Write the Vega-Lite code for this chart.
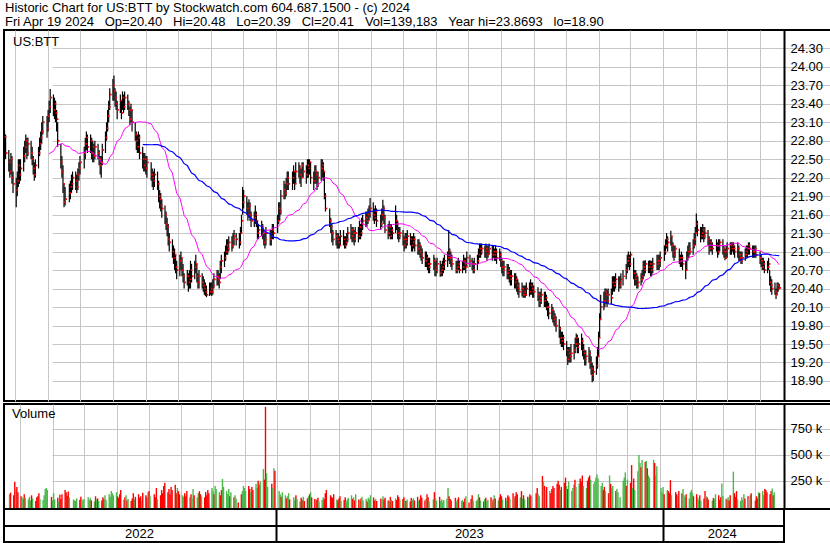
{
"$schema":"https://vega.github.io/schema/vega-lite/v6.json",
"padding":0,
"background":"#ffffff",
"config":{"view":{"stroke":"#000000","strokeWidth":2},"font":"Liberation Sans",
"title":{"font":"Liberation Sans","fontSize":13,"fontWeight":"normal","color":"#000000","anchor":"start","frame":"group"},
"axis":{"gridColor":"#c6c6c6","gridWidth":1,"gridOpacity":1,"labelFont":"Liberation Sans","labelOverlap":false}},
"datasets":{"p":[
{"d":"2022-04-21","h":22.95,"l":22.6,"c":22.86,"v":120},
{"d":"2022-04-22","h":22.9,"l":22.5,"c":22.6,"v":135},
{"d":"2022-04-25","h":22.65,"l":22.3,"c":22.45,"v":110},
{"d":"2022-04-26","h":22.5,"l":22.2,"c":22.3,"v":240},
{"d":"2022-04-27","h":22.6,"l":22.25,"c":22.5,"v":160},
{"d":"2022-04-28","h":22.55,"l":22.1,"c":22.2,"v":190},
{"d":"2022-04-29","h":22.3,"l":21.95,"c":22.1,"v":140},
{"d":"2022-05-02","h":22.2,"l":21.72,"c":22.0,"v":100},
{"d":"2022-05-03","h":22.3,"l":21.9,"c":22.15,"v":90},
{"d":"2022-05-04","h":22.5,"l":22.05,"c":22.4,"v":75},
{"d":"2022-05-05","h":22.5,"l":22.1,"c":22.25,"v":120},
{"d":"2022-05-06","h":22.5,"l":22.15,"c":22.35,"v":85},
{"d":"2022-05-09","h":22.7,"l":22.3,"c":22.55,"v":70},
{"d":"2022-05-10","h":22.8,"l":22.45,"c":22.7,"v":95},
{"d":"2022-05-11","h":22.9,"l":22.6,"c":22.8,"v":60},
{"d":"2022-05-12","h":22.85,"l":22.5,"c":22.6,"v":110},
{"d":"2022-05-13","h":22.85,"l":22.55,"c":22.75,"v":80},
{"d":"2022-05-16","h":22.8,"l":22.5,"c":22.6,"v":55},
{"d":"2022-05-17","h":22.7,"l":22.4,"c":22.5,"v":90},
{"d":"2022-05-18","h":22.55,"l":22.25,"c":22.35,"v":100},
{"d":"2022-05-19","h":22.45,"l":22.15,"c":22.25,"v":130},
{"d":"2022-05-20","h":22.5,"l":22.2,"c":22.4,"v":75},
{"d":"2022-05-23","h":22.7,"l":22.35,"c":22.6,"v":65},
{"d":"2022-05-24","h":22.85,"l":22.55,"c":22.75,"v":110},
{"d":"2022-05-25","h":22.95,"l":22.65,"c":22.85,"v":170},
{"d":"2022-05-26","h":23.1,"l":22.75,"c":22.95,"v":180},
{"d":"2022-05-27","h":23.2,"l":22.9,"c":23.1,"v":160},
{"d":"2022-05-31","h":23.2,"l":22.85,"c":23.0,"v":95},
{"d":"2022-06-01","h":23.3,"l":22.95,"c":23.2,"v":60},
{"d":"2022-06-02","h":23.45,"l":23.1,"c":23.35,"v":130},
{"d":"2022-06-03","h":23.64,"l":23.25,"c":23.5,"v":70},
{"d":"2022-06-06","h":23.55,"l":23.2,"c":23.3,"v":85},
{"d":"2022-06-07","h":23.5,"l":23.15,"c":23.4,"v":50},
{"d":"2022-06-08","h":23.45,"l":23.1,"c":23.25,"v":115},
{"d":"2022-06-09","h":23.3,"l":22.95,"c":23.15,"v":75},
{"d":"2022-06-10","h":23.1,"l":22.7,"c":22.8,"v":120},
{"d":"2022-06-13","h":22.75,"l":22.35,"c":22.45,"v":160},
{"d":"2022-06-14","h":22.55,"l":22.2,"c":22.3,"v":140},
{"d":"2022-06-15","h":22.4,"l":21.95,"c":22.1,"v":105},
{"d":"2022-06-16","h":22.1,"l":21.72,"c":21.8,"v":145},
{"d":"2022-06-17","h":22.05,"l":21.75,"c":21.85,"v":90},
{"d":"2022-06-21","h":22.1,"l":21.8,"c":21.95,"v":70},
{"d":"2022-06-22","h":22.15,"l":21.85,"c":22.05,"v":60},
{"d":"2022-06-23","h":22.25,"l":21.95,"c":22.1,"v":55},
{"d":"2022-06-24","h":22.3,"l":22.0,"c":22.2,"v":80},
{"d":"2022-06-27","h":22.3,"l":22.0,"c":22.15,"v":65},
{"d":"2022-06-28","h":22.25,"l":21.95,"c":22.05,"v":95},
{"d":"2022-06-29","h":22.35,"l":22.0,"c":22.25,"v":70},
{"d":"2022-06-30","h":22.45,"l":22.15,"c":22.35,"v":60},
{"d":"2022-07-01","h":22.55,"l":22.25,"c":22.45,"v":75},
{"d":"2022-07-05","h":22.7,"l":22.35,"c":22.6,"v":90},
{"d":"2022-07-06","h":22.85,"l":22.5,"c":22.75,"v":65},
{"d":"2022-07-07","h":22.95,"l":22.65,"c":22.85,"v":85},
{"d":"2022-07-08","h":22.9,"l":22.6,"c":22.7,"v":60},
{"d":"2022-07-11","h":22.9,"l":22.6,"c":22.8,"v":50},
{"d":"2022-07-12","h":22.85,"l":22.5,"c":22.6,"v":100},
{"d":"2022-07-13","h":22.8,"l":22.45,"c":22.7,"v":70},
{"d":"2022-07-14","h":22.75,"l":22.45,"c":22.55,"v":80},
{"d":"2022-07-15","h":22.8,"l":22.5,"c":22.7,"v":55},
{"d":"2022-07-18","h":22.75,"l":22.5,"c":22.6,"v":60},
{"d":"2022-07-19","h":22.65,"l":22.4,"c":22.5,"v":90},
{"d":"2022-07-20","h":22.55,"l":22.25,"c":22.4,"v":75},
{"d":"2022-07-21","h":22.55,"l":22.2,"c":22.45,"v":110},
{"d":"2022-07-22","h":22.75,"l":22.4,"c":22.65,"v":65},
{"d":"2022-07-25","h":22.95,"l":22.6,"c":22.85,"v":120},
{"d":"2022-07-26","h":23.1,"l":22.8,"c":23.0,"v":95},
{"d":"2022-07-27","h":23.3,"l":22.95,"c":23.2,"v":150},
{"d":"2022-07-28","h":23.45,"l":23.1,"c":23.35,"v":130},
{"d":"2022-07-29","h":23.65,"l":23.3,"c":23.55,"v":110},
{"d":"2022-08-01","h":23.8,"l":23.45,"c":23.7,"v":140},
{"d":"2022-08-02","h":23.86,"l":23.45,"c":23.6,"v":100},
{"d":"2022-08-03","h":23.65,"l":23.35,"c":23.5,"v":85},
{"d":"2022-08-04","h":23.6,"l":23.3,"c":23.4,"v":120},
{"d":"2022-08-05","h":23.45,"l":23.15,"c":23.3,"v":160},
{"d":"2022-08-08","h":23.55,"l":23.25,"c":23.45,"v":70},
{"d":"2022-08-09","h":23.45,"l":23.15,"c":23.25,"v":90},
{"d":"2022-08-10","h":23.6,"l":23.3,"c":23.5,"v":110},
{"d":"2022-08-11","h":23.55,"l":23.25,"c":23.35,"v":60},
{"d":"2022-08-12","h":23.6,"l":23.3,"c":23.5,"v":75},
{"d":"2022-08-15","h":23.55,"l":23.3,"c":23.4,"v":55},
{"d":"2022-08-16","h":23.45,"l":23.2,"c":23.3,"v":80},
{"d":"2022-08-17","h":23.35,"l":23.05,"c":23.15,"v":130},
{"d":"2022-08-18","h":23.4,"l":23.1,"c":23.3,"v":70},
{"d":"2022-08-19","h":23.3,"l":22.95,"c":23.1,"v":95},
{"d":"2022-08-22","h":23.1,"l":22.8,"c":22.9,"v":120},
{"d":"2022-08-23","h":22.95,"l":22.65,"c":22.8,"v":85},
{"d":"2022-08-24","h":22.9,"l":22.6,"c":22.7,"v":100},
{"d":"2022-08-25","h":22.95,"l":22.6,"c":22.85,"v":60},
{"d":"2022-08-26","h":22.9,"l":22.5,"c":22.6,"v":135},
{"d":"2022-08-29","h":22.7,"l":22.35,"c":22.5,"v":110},
{"d":"2022-08-30","h":22.6,"l":22.3,"c":22.4,"v":90},
{"d":"2022-08-31","h":22.6,"l":22.3,"c":22.5,"v":140},
{"d":"2022-09-01","h":22.55,"l":22.25,"c":22.35,"v":150},
{"d":"2022-09-02","h":22.55,"l":22.2,"c":22.45,"v":100},
{"d":"2022-09-06","h":22.45,"l":22.15,"c":22.25,"v":120},
{"d":"2022-09-07","h":22.35,"l":22.05,"c":22.2,"v":90},
{"d":"2022-09-08","h":22.3,"l":22.0,"c":22.15,"v":180},
{"d":"2022-09-09","h":22.35,"l":22.05,"c":22.25,"v":70},
{"d":"2022-09-12","h":22.3,"l":22.0,"c":22.1,"v":110},
{"d":"2022-09-13","h":22.15,"l":21.8,"c":21.9,"v":160},
{"d":"2022-09-14","h":22.0,"l":21.7,"c":21.85,"v":130},
{"d":"2022-09-15","h":21.95,"l":21.65,"c":21.75,"v":200},
{"d":"2022-09-16","h":21.85,"l":21.55,"c":21.7,"v":230},
{"d":"2022-09-19","h":21.75,"l":21.45,"c":21.6,"v":140},
{"d":"2022-09-20","h":21.65,"l":21.35,"c":21.45,"v":170},
{"d":"2022-09-21","h":21.55,"l":21.25,"c":21.4,"v":120},
{"d":"2022-09-22","h":21.45,"l":21.1,"c":21.2,"v":190},
{"d":"2022-09-23","h":21.3,"l":21.0,"c":21.15,"v":160},
{"d":"2022-09-26","h":21.2,"l":20.9,"c":21.0,"v":210},
{"d":"2022-09-27","h":21.1,"l":20.8,"c":20.9,"v":130},
{"d":"2022-09-28","h":21.05,"l":20.7,"c":20.95,"v":180},
{"d":"2022-09-29","h":20.95,"l":20.65,"c":20.75,"v":150},
{"d":"2022-09-30","h":20.85,"l":20.55,"c":20.7,"v":120},
{"d":"2022-10-03","h":20.95,"l":20.6,"c":20.85,"v":110},
{"d":"2022-10-04","h":21.0,"l":20.7,"c":20.9,"v":95},
{"d":"2022-10-05","h":20.9,"l":20.6,"c":20.7,"v":130},
{"d":"2022-10-06","h":20.8,"l":20.5,"c":20.6,"v":100},
{"d":"2022-10-07","h":20.65,"l":20.4,"c":20.5,"v":150},
{"d":"2022-10-10","h":20.7,"l":20.45,"c":20.6,"v":90},
{"d":"2022-10-11","h":20.65,"l":20.35,"c":20.5,"v":120},
{"d":"2022-10-12","h":20.7,"l":20.4,"c":20.55,"v":80},
{"d":"2022-10-13","h":20.85,"l":20.4,"c":20.7,"v":170},
{"d":"2022-10-14","h":20.8,"l":20.5,"c":20.6,"v":110},
{"d":"2022-10-17","h":20.85,"l":20.55,"c":20.75,"v":90},
{"d":"2022-10-18","h":20.95,"l":20.65,"c":20.8,"v":130},
{"d":"2022-10-19","h":20.8,"l":20.5,"c":20.6,"v":150},
{"d":"2022-10-20","h":20.65,"l":20.4,"c":20.5,"v":120},
{"d":"2022-10-21","h":20.7,"l":20.4,"c":20.6,"v":100},
{"d":"2022-10-24","h":20.65,"l":20.4,"c":20.5,"v":90},
{"d":"2022-10-25","h":20.6,"l":20.35,"c":20.45,"v":140},
{"d":"2022-10-26","h":20.55,"l":20.3,"c":20.4,"v":110},
{"d":"2022-10-27","h":20.5,"l":20.28,"c":20.35,"v":160},
{"d":"2022-10-28","h":20.45,"l":20.26,"c":20.3,"v":130},
{"d":"2022-10-31","h":20.5,"l":20.28,"c":20.35,"v":180},
{"d":"2022-11-01","h":20.5,"l":20.3,"c":20.4,"v":150},
{"d":"2022-11-02","h":20.5,"l":20.28,"c":20.35,"v":120},
{"d":"2022-11-03","h":20.55,"l":20.3,"c":20.45,"v":200},
{"d":"2022-11-04","h":20.65,"l":20.4,"c":20.55,"v":170},
{"d":"2022-11-07","h":20.7,"l":20.45,"c":20.6,"v":140},
{"d":"2022-11-08","h":20.7,"l":20.45,"c":20.55,"v":110},
{"d":"2022-11-09","h":20.65,"l":20.4,"c":20.5,"v":160},
{"d":"2022-11-10","h":20.85,"l":20.55,"c":20.75,"v":266},
{"d":"2022-11-11","h":20.95,"l":20.65,"c":20.85,"v":190},
{"d":"2022-11-14","h":21.0,"l":20.75,"c":20.9,"v":150},
{"d":"2022-11-15","h":21.1,"l":20.85,"c":21.0,"v":120},
{"d":"2022-11-16","h":21.2,"l":20.95,"c":21.1,"v":170},
{"d":"2022-11-17","h":21.2,"l":20.95,"c":21.05,"v":100},
{"d":"2022-11-18","h":21.25,"l":21.0,"c":21.15,"v":140},
{"d":"2022-11-21","h":21.25,"l":21.0,"c":21.1,"v":90},
{"d":"2022-11-22","h":21.3,"l":21.05,"c":21.2,"v":110},
{"d":"2022-11-23","h":21.35,"l":21.1,"c":21.25,"v":80},
{"d":"2022-11-25","h":21.3,"l":21.1,"c":21.2,"v":40},
{"d":"2022-11-28","h":21.3,"l":21.05,"c":21.15,"v":120},
{"d":"2022-11-29","h":21.4,"l":21.1,"c":21.3,"v":150},
{"d":"2022-11-30","h":21.6,"l":21.3,"c":21.5,"v":200},
{"d":"2022-12-01","h":22.05,"l":21.6,"c":21.8,"v":180},
{"d":"2022-12-02","h":22.0,"l":21.7,"c":21.9,"v":150},
{"d":"2022-12-05","h":21.9,"l":21.6,"c":21.7,"v":200},
{"d":"2022-12-06","h":21.8,"l":21.5,"c":21.6,"v":170},
{"d":"2022-12-07","h":21.85,"l":21.55,"c":21.75,"v":140},
{"d":"2022-12-08","h":21.8,"l":21.5,"c":21.6,"v":190},
{"d":"2022-12-09","h":21.65,"l":21.4,"c":21.5,"v":160},
{"d":"2022-12-12","h":21.65,"l":21.4,"c":21.55,"v":220},
{"d":"2022-12-13","h":21.75,"l":21.45,"c":21.6,"v":180},
{"d":"2022-12-14","h":21.65,"l":21.4,"c":21.5,"v":250},
{"d":"2022-12-15","h":21.5,"l":21.2,"c":21.3,"v":210},
{"d":"2022-12-16","h":21.45,"l":21.2,"c":21.35,"v":240},
{"d":"2022-12-19","h":21.5,"l":21.25,"c":21.4,"v":362},
{"d":"2022-12-20","h":21.45,"l":21.2,"c":21.3,"v":260},
{"d":"2022-12-21","h":21.35,"l":21.1,"c":21.15,"v":960},
{"d":"2022-12-22","h":21.3,"l":21.05,"c":21.2,"v":320},
{"d":"2022-12-23","h":21.4,"l":21.1,"c":21.3,"v":190},
{"d":"2022-12-27","h":21.35,"l":21.1,"c":21.2,"v":220},
{"d":"2022-12-28","h":21.35,"l":21.1,"c":21.25,"v":180},
{"d":"2022-12-29","h":21.45,"l":21.2,"c":21.35,"v":370},
{"d":"2022-12-30","h":21.45,"l":21.2,"c":21.3,"v":345},
{"d":"2023-01-03","h":21.6,"l":21.3,"c":21.5,"v":150},
{"d":"2023-01-04","h":21.8,"l":21.45,"c":21.7,"v":120},
{"d":"2023-01-05","h":21.8,"l":21.5,"c":21.65,"v":95},
{"d":"2023-01-06","h":22.0,"l":21.6,"c":21.9,"v":140},
{"d":"2023-01-09","h":22.15,"l":21.85,"c":22.0,"v":110},
{"d":"2023-01-10","h":22.1,"l":21.85,"c":21.95,"v":80},
{"d":"2023-01-11","h":22.2,"l":21.9,"c":22.1,"v":100},
{"d":"2023-01-12","h":22.3,"l":22.0,"c":22.2,"v":130},
{"d":"2023-01-13","h":22.3,"l":22.0,"c":22.1,"v":70},
{"d":"2023-01-17","h":22.3,"l":22.0,"c":22.2,"v":90},
{"d":"2023-01-18","h":22.4,"l":22.1,"c":22.3,"v":60},
{"d":"2023-01-19","h":22.3,"l":22.0,"c":22.1,"v":110},
{"d":"2023-01-20","h":22.45,"l":22.1,"c":22.3,"v":75},
{"d":"2023-01-23","h":22.45,"l":22.2,"c":22.35,"v":50},
{"d":"2023-01-24","h":22.4,"l":22.1,"c":22.25,"v":85},
{"d":"2023-01-25","h":22.35,"l":22.05,"c":22.2,"v":65},
{"d":"2023-01-26","h":22.45,"l":22.2,"c":22.4,"v":95},
{"d":"2023-01-27","h":22.45,"l":22.2,"c":22.3,"v":55},
{"d":"2023-01-30","h":22.4,"l":22.1,"c":22.25,"v":80},
{"d":"2023-01-31","h":22.5,"l":22.2,"c":22.4,"v":100},
{"d":"2023-02-01","h":22.5,"l":22.2,"c":22.35,"v":120},
{"d":"2023-02-02","h":22.5,"l":22.25,"c":22.45,"v":140},
{"d":"2023-02-03","h":22.45,"l":22.1,"c":22.2,"v":90},
{"d":"2023-02-06","h":22.3,"l":22.0,"c":22.15,"v":75},
{"d":"2023-02-07","h":22.4,"l":22.1,"c":22.3,"v":60},
{"d":"2023-02-08","h":22.4,"l":22.1,"c":22.25,"v":70},
{"d":"2023-02-09","h":22.3,"l":22.0,"c":22.1,"v":85},
{"d":"2023-02-10","h":22.3,"l":22.05,"c":22.2,"v":50},
{"d":"2023-02-13","h":22.5,"l":22.15,"c":22.35,"v":65},
{"d":"2023-02-14","h":22.5,"l":22.2,"c":22.4,"v":90},
{"d":"2023-02-15","h":22.45,"l":22.15,"c":22.3,"v":75},
{"d":"2023-02-16","h":22.3,"l":21.85,"c":21.9,"v":130},
{"d":"2023-02-17","h":21.95,"l":21.65,"c":21.7,"v":160},
{"d":"2023-02-21","h":21.7,"l":21.4,"c":21.5,"v":110},
{"d":"2023-02-22","h":21.55,"l":21.3,"c":21.4,"v":95},
{"d":"2023-02-23","h":21.45,"l":21.15,"c":21.3,"v":85},
{"d":"2023-02-24","h":21.35,"l":21.1,"c":21.2,"v":120},
{"d":"2023-02-27","h":21.35,"l":21.1,"c":21.25,"v":70},
{"d":"2023-02-28","h":21.3,"l":21.05,"c":21.2,"v":60},
{"d":"2023-03-01","h":21.3,"l":21.05,"c":21.15,"v":80},
{"d":"2023-03-02","h":21.25,"l":21.05,"c":21.1,"v":100},
{"d":"2023-03-03","h":21.35,"l":21.1,"c":21.25,"v":55},
{"d":"2023-03-06","h":21.35,"l":21.1,"c":21.2,"v":65},
{"d":"2023-03-07","h":21.25,"l":21.05,"c":21.1,"v":90},
{"d":"2023-03-08","h":21.25,"l":21.05,"c":21.15,"v":50},
{"d":"2023-03-09","h":21.3,"l":21.1,"c":21.2,"v":70},
{"d":"2023-03-10","h":21.4,"l":21.15,"c":21.3,"v":85},
{"d":"2023-03-13","h":21.45,"l":21.2,"c":21.35,"v":110},
{"d":"2023-03-14","h":21.4,"l":21.15,"c":21.25,"v":75},
{"d":"2023-03-15","h":21.4,"l":21.15,"c":21.3,"v":90},
{"d":"2023-03-16","h":21.35,"l":21.1,"c":21.2,"v":60},
{"d":"2023-03-17","h":21.4,"l":21.15,"c":21.3,"v":120},
{"d":"2023-03-20","h":21.4,"l":21.15,"c":21.25,"v":70},
{"d":"2023-03-21","h":21.5,"l":21.2,"c":21.4,"v":55},
{"d":"2023-03-22","h":21.45,"l":21.2,"c":21.3,"v":80},
{"d":"2023-03-23","h":21.55,"l":21.25,"c":21.45,"v":95},
{"d":"2023-03-24","h":21.6,"l":21.35,"c":21.5,"v":60},
{"d":"2023-03-27","h":21.65,"l":21.4,"c":21.55,"v":75},
{"d":"2023-03-28","h":21.65,"l":21.4,"c":21.5,"v":50},
{"d":"2023-03-29","h":21.7,"l":21.45,"c":21.6,"v":85},
{"d":"2023-03-30","h":21.75,"l":21.5,"c":21.65,"v":70},
{"d":"2023-03-31","h":21.87,"l":21.55,"c":21.7,"v":110},
{"d":"2023-04-03","h":21.8,"l":21.5,"c":21.6,"v":90},
{"d":"2023-04-04","h":21.7,"l":21.45,"c":21.55,"v":60},
{"d":"2023-04-05","h":21.75,"l":21.5,"c":21.65,"v":75},
{"d":"2023-04-06","h":21.7,"l":21.4,"c":21.5,"v":55},
{"d":"2023-04-10","h":21.6,"l":21.35,"c":21.45,"v":80},
{"d":"2023-04-11","h":21.7,"l":21.4,"c":21.6,"v":65},
{"d":"2023-04-12","h":21.84,"l":21.5,"c":21.7,"v":100},
{"d":"2023-04-13","h":21.75,"l":21.45,"c":21.55,"v":70},
{"d":"2023-04-14","h":21.6,"l":21.3,"c":21.35,"v":85},
{"d":"2023-04-17","h":21.45,"l":21.2,"c":21.3,"v":60},
{"d":"2023-04-18","h":21.5,"l":21.25,"c":21.4,"v":50},
{"d":"2023-04-19","h":21.45,"l":21.2,"c":21.25,"v":95},
{"d":"2023-04-20","h":21.45,"l":21.2,"c":21.35,"v":70},
{"d":"2023-04-21","h":21.4,"l":21.2,"c":21.3,"v":55},
{"d":"2023-04-24","h":21.75,"l":21.3,"c":21.5,"v":80},
{"d":"2023-04-25","h":21.6,"l":21.35,"c":21.45,"v":65},
{"d":"2023-04-26","h":21.5,"l":21.2,"c":21.3,"v":110},
{"d":"2023-04-27","h":21.4,"l":21.15,"c":21.25,"v":90},
{"d":"2023-04-28","h":21.4,"l":21.2,"c":21.3,"v":70},
{"d":"2023-05-01","h":21.35,"l":21.1,"c":21.2,"v":75},
{"d":"2023-05-02","h":21.25,"l":21.0,"c":21.1,"v":90},
{"d":"2023-05-03","h":21.3,"l":21.05,"c":21.2,"v":60},
{"d":"2023-05-04","h":21.3,"l":21.05,"c":21.15,"v":55},
{"d":"2023-05-05","h":21.35,"l":21.1,"c":21.25,"v":70},
{"d":"2023-05-08","h":21.3,"l":21.1,"c":21.2,"v":50},
{"d":"2023-05-09","h":21.25,"l":21.0,"c":21.1,"v":85},
{"d":"2023-05-10","h":21.25,"l":21.0,"c":21.15,"v":65},
{"d":"2023-05-11","h":21.3,"l":21.05,"c":21.2,"v":80},
{"d":"2023-05-12","h":21.25,"l":21.0,"c":21.1,"v":60},
{"d":"2023-05-15","h":21.2,"l":20.95,"c":21.05,"v":95},
{"d":"2023-05-16","h":21.2,"l":20.95,"c":21.1,"v":55},
{"d":"2023-05-17","h":21.15,"l":20.9,"c":21.0,"v":70},
{"d":"2023-05-18","h":21.1,"l":20.85,"c":20.95,"v":110},
{"d":"2023-05-19","h":21.05,"l":20.8,"c":20.9,"v":85},
{"d":"2023-05-22","h":21.0,"l":20.75,"c":20.85,"v":60},
{"d":"2023-05-23","h":21.0,"l":20.75,"c":20.9,"v":75},
{"d":"2023-05-24","h":20.95,"l":20.7,"c":20.8,"v":120},
{"d":"2023-05-25","h":20.9,"l":20.65,"c":20.75,"v":90},
{"d":"2023-05-26","h":20.9,"l":20.65,"c":20.8,"v":50},
{"d":"2023-05-30","h":20.95,"l":20.7,"c":20.85,"v":70},
{"d":"2023-05-31","h":20.9,"l":20.6,"c":20.7,"v":140},
{"d":"2023-06-01","h":20.85,"l":20.6,"c":20.75,"v":80},
{"d":"2023-06-02","h":20.9,"l":20.65,"c":20.8,"v":60},
{"d":"2023-06-05","h":20.85,"l":20.59,"c":20.65,"v":95},
{"d":"2023-06-06","h":20.8,"l":20.6,"c":20.7,"v":55},
{"d":"2023-06-07","h":20.85,"l":20.6,"c":20.75,"v":70},
{"d":"2023-06-08","h":20.9,"l":20.65,"c":20.8,"v":45},
{"d":"2023-06-09","h":20.95,"l":20.7,"c":20.85,"v":65},
{"d":"2023-06-12","h":21.0,"l":20.75,"c":20.9,"v":80},
{"d":"2023-06-13","h":21.35,"l":20.85,"c":21.0,"v":180},
{"d":"2023-06-14","h":21.05,"l":20.8,"c":20.9,"v":100},
{"d":"2023-06-15","h":21.0,"l":20.75,"c":20.85,"v":75},
{"d":"2023-06-16","h":20.95,"l":20.7,"c":20.8,"v":60},
{"d":"2023-06-20","h":20.85,"l":20.65,"c":20.7,"v":85},
{"d":"2023-06-21","h":20.85,"l":20.65,"c":20.75,"v":50},
{"d":"2023-06-22","h":20.9,"l":20.7,"c":20.8,"v":70},
{"d":"2023-06-23","h":20.85,"l":20.65,"c":20.7,"v":90},
{"d":"2023-06-26","h":20.85,"l":20.65,"c":20.75,"v":55},
{"d":"2023-06-27","h":20.95,"l":20.7,"c":20.85,"v":65},
{"d":"2023-06-28","h":20.9,"l":20.7,"c":20.8,"v":45},
{"d":"2023-06-29","h":20.9,"l":20.65,"c":20.75,"v":80},
{"d":"2023-06-30","h":21.0,"l":20.75,"c":20.9,"v":100},
{"d":"2023-07-03","h":20.95,"l":20.75,"c":20.85,"v":40},
{"d":"2023-07-05","h":20.9,"l":20.7,"c":20.8,"v":75},
{"d":"2023-07-06","h":20.85,"l":20.65,"c":20.7,"v":110},
{"d":"2023-07-07","h":20.9,"l":20.65,"c":20.8,"v":60},
{"d":"2023-07-10","h":20.95,"l":20.7,"c":20.85,"v":55},
{"d":"2023-07-11","h":21.05,"l":20.8,"c":20.95,"v":70},
{"d":"2023-07-12","h":21.13,"l":20.9,"c":21.05,"v":120},
{"d":"2023-07-13","h":21.13,"l":20.9,"c":21.0,"v":90},
{"d":"2023-07-14","h":21.13,"l":20.95,"c":21.05,"v":60},
{"d":"2023-07-17","h":21.1,"l":20.9,"c":21.0,"v":50},
{"d":"2023-07-18","h":21.13,"l":20.9,"c":21.05,"v":75},
{"d":"2023-07-19","h":21.1,"l":20.85,"c":20.95,"v":85},
{"d":"2023-07-20","h":21.1,"l":20.9,"c":21.0,"v":55},
{"d":"2023-07-21","h":21.13,"l":20.95,"c":21.05,"v":65},
{"d":"2023-07-24","h":21.1,"l":20.85,"c":20.95,"v":90},
{"d":"2023-07-25","h":21.1,"l":20.9,"c":21.0,"v":50},
{"d":"2023-07-26","h":21.05,"l":20.85,"c":20.95,"v":70},
{"d":"2023-07-27","h":21.1,"l":20.85,"c":21.0,"v":110},
{"d":"2023-07-28","h":21.05,"l":20.8,"c":20.9,"v":80},
{"d":"2023-07-31","h":21.05,"l":20.85,"c":20.95,"v":60},
{"d":"2023-08-01","h":21.0,"l":20.75,"c":20.85,"v":90},
{"d":"2023-08-02","h":20.9,"l":20.65,"c":20.75,"v":120},
{"d":"2023-08-03","h":20.85,"l":20.6,"c":20.7,"v":100},
{"d":"2023-08-04","h":20.85,"l":20.6,"c":20.75,"v":70},
{"d":"2023-08-07","h":20.8,"l":20.55,"c":20.65,"v":85},
{"d":"2023-08-08","h":20.8,"l":20.55,"c":20.7,"v":60},
{"d":"2023-08-09","h":20.75,"l":20.5,"c":20.6,"v":110},
{"d":"2023-08-10","h":20.7,"l":20.45,"c":20.55,"v":95},
{"d":"2023-08-11","h":20.7,"l":20.45,"c":20.6,"v":75},
{"d":"2023-08-14","h":20.65,"l":20.4,"c":20.5,"v":130},
{"d":"2023-08-15","h":20.65,"l":20.4,"c":20.55,"v":80},
{"d":"2023-08-16","h":20.6,"l":20.35,"c":20.45,"v":100},
{"d":"2023-08-17","h":20.55,"l":20.3,"c":20.4,"v":140},
{"d":"2023-08-18","h":20.5,"l":20.25,"c":20.35,"v":120},
{"d":"2023-08-21","h":20.5,"l":20.27,"c":20.4,"v":90},
{"d":"2023-08-22","h":20.45,"l":20.25,"c":20.3,"v":150},
{"d":"2023-08-23","h":20.45,"l":20.25,"c":20.35,"v":80},
{"d":"2023-08-24","h":20.45,"l":20.25,"c":20.3,"v":110},
{"d":"2023-08-25","h":20.5,"l":20.28,"c":20.4,"v":70},
{"d":"2023-08-28","h":20.5,"l":20.27,"c":20.35,"v":95},
{"d":"2023-08-29","h":20.55,"l":20.3,"c":20.45,"v":85},
{"d":"2023-08-30","h":20.5,"l":20.3,"c":20.4,"v":120},
{"d":"2023-08-31","h":20.5,"l":20.25,"c":20.35,"v":100},
{"d":"2023-09-01","h":20.45,"l":20.25,"c":20.35,"v":110},
{"d":"2023-09-05","h":20.42,"l":20.2,"c":20.3,"v":130},
{"d":"2023-09-06","h":20.35,"l":20.1,"c":20.2,"v":180},
{"d":"2023-09-07","h":20.35,"l":20.1,"c":20.25,"v":120},
{"d":"2023-09-08","h":20.4,"l":20.15,"c":20.3,"v":100},
{"d":"2023-09-11","h":20.35,"l":20.1,"c":20.2,"v":295},
{"d":"2023-09-12","h":20.35,"l":20.1,"c":20.25,"v":240},
{"d":"2023-09-13","h":20.3,"l":20.05,"c":20.1,"v":200},
{"d":"2023-09-14","h":20.2,"l":19.95,"c":20.1,"v":160},
{"d":"2023-09-15","h":20.17,"l":19.9,"c":20.0,"v":190},
{"d":"2023-09-18","h":20.15,"l":19.9,"c":20.05,"v":150},
{"d":"2023-09-19","h":20.1,"l":19.85,"c":19.95,"v":130},
{"d":"2023-09-20","h":20.05,"l":19.8,"c":19.9,"v":170},
{"d":"2023-09-21","h":20.0,"l":19.78,"c":19.85,"v":200},
{"d":"2023-09-22","h":19.95,"l":19.7,"c":19.8,"v":180},
{"d":"2023-09-25","h":19.9,"l":19.6,"c":19.75,"v":220},
{"d":"2023-09-26","h":19.78,"l":19.5,"c":19.6,"v":250},
{"d":"2023-09-27","h":19.7,"l":19.45,"c":19.55,"v":210},
{"d":"2023-09-28","h":19.7,"l":19.45,"c":19.6,"v":160},
{"d":"2023-09-29","h":19.65,"l":19.4,"c":19.5,"v":190},
{"d":"2023-10-02","h":19.55,"l":19.3,"c":19.4,"v":230},
{"d":"2023-10-03","h":19.45,"l":19.16,"c":19.25,"v":280},
{"d":"2023-10-04","h":19.45,"l":19.2,"c":19.35,"v":200},
{"d":"2023-10-05","h":19.45,"l":19.2,"c":19.3,"v":170},
{"d":"2023-10-06","h":19.5,"l":19.2,"c":19.35,"v":240},
{"d":"2023-10-09","h":19.5,"l":19.25,"c":19.4,"v":150},
{"d":"2023-10-10","h":19.6,"l":19.35,"c":19.5,"v":180},
{"d":"2023-10-11","h":19.67,"l":19.45,"c":19.6,"v":210},
{"d":"2023-10-12","h":19.65,"l":19.35,"c":19.45,"v":260},
{"d":"2023-10-13","h":19.6,"l":19.35,"c":19.5,"v":190},
{"d":"2023-10-16","h":19.67,"l":19.4,"c":19.55,"v":220},
{"d":"2023-10-17","h":19.6,"l":19.3,"c":19.4,"v":270},
{"d":"2023-10-18","h":19.5,"l":19.25,"c":19.35,"v":240},
{"d":"2023-10-19","h":19.4,"l":19.15,"c":19.25,"v":300},
{"d":"2023-10-20","h":19.4,"l":19.15,"c":19.3,"v":200},
{"d":"2023-10-23","h":19.45,"l":19.2,"c":19.35,"v":180},
{"d":"2023-10-24","h":19.4,"l":19.1,"c":19.2,"v":250},
{"d":"2023-10-25","h":19.3,"l":19.0,"c":19.1,"v":280},
{"d":"2023-10-26","h":19.2,"l":18.88,"c":19.0,"v":300},
{"d":"2023-10-27","h":19.15,"l":18.9,"c":19.05,"v":260},
{"d":"2023-10-30","h":19.3,"l":19.0,"c":19.15,"v":220},
{"d":"2023-10-31","h":19.45,"l":19.1,"c":19.3,"v":240},
{"d":"2023-11-01","h":19.7,"l":19.3,"c":19.6,"v":280},
{"d":"2023-11-02","h":20.0,"l":19.6,"c":19.9,"v":310},
{"d":"2023-11-03","h":20.3,"l":19.9,"c":20.1,"v":270},
{"d":"2023-11-06","h":20.35,"l":20.05,"c":20.2,"v":200},
{"d":"2023-11-07","h":20.4,"l":20.1,"c":20.35,"v":230},
{"d":"2023-11-08","h":20.4,"l":20.15,"c":20.3,"v":160},
{"d":"2023-11-09","h":20.38,"l":20.1,"c":20.2,"v":190},
{"d":"2023-11-10","h":20.4,"l":20.15,"c":20.3,"v":150},
{"d":"2023-11-13","h":20.4,"l":20.15,"c":20.25,"v":130},
{"d":"2023-11-14","h":20.6,"l":20.3,"c":20.5,"v":300},
{"d":"2023-11-15","h":20.6,"l":20.35,"c":20.45,"v":220},
{"d":"2023-11-16","h":20.6,"l":20.35,"c":20.5,"v":180},
{"d":"2023-11-17","h":20.65,"l":20.4,"c":20.55,"v":200},
{"d":"2023-11-20","h":20.6,"l":20.35,"c":20.45,"v":150},
{"d":"2023-11-21","h":20.6,"l":20.4,"c":20.5,"v":170},
{"d":"2023-11-22","h":20.65,"l":20.4,"c":20.55,"v":140},
{"d":"2023-11-24","h":20.7,"l":20.45,"c":20.6,"v":90},
{"d":"2023-11-27","h":20.8,"l":20.55,"c":20.7,"v":250},
{"d":"2023-11-28","h":20.95,"l":20.65,"c":20.85,"v":280},
{"d":"2023-11-29","h":21.0,"l":20.75,"c":20.9,"v":330},
{"d":"2023-11-30","h":20.95,"l":20.7,"c":20.8,"v":200},
{"d":"2023-12-01","h":21.0,"l":20.75,"c":20.95,"v":260},
{"d":"2023-12-04","h":20.9,"l":20.55,"c":20.65,"v":230},
{"d":"2023-12-05","h":20.7,"l":20.45,"c":20.55,"v":400},
{"d":"2023-12-06","h":20.7,"l":20.45,"c":20.6,"v":180},
{"d":"2023-12-07","h":20.65,"l":20.4,"c":20.45,"v":270},
{"d":"2023-12-08","h":20.6,"l":20.4,"c":20.5,"v":160},
{"d":"2023-12-11","h":20.65,"l":20.45,"c":20.55,"v":340},
{"d":"2023-12-12","h":20.7,"l":20.5,"c":20.6,"v":497},
{"d":"2023-12-13","h":20.85,"l":20.55,"c":20.75,"v":420},
{"d":"2023-12-14","h":20.85,"l":20.6,"c":20.7,"v":380},
{"d":"2023-12-15","h":20.86,"l":20.65,"c":20.8,"v":450},
{"d":"2023-12-18","h":20.85,"l":20.65,"c":20.75,"v":430},
{"d":"2023-12-19","h":20.86,"l":20.65,"c":20.8,"v":440},
{"d":"2023-12-20","h":20.85,"l":20.6,"c":20.7,"v":370},
{"d":"2023-12-21","h":20.85,"l":20.6,"c":20.75,"v":300},
{"d":"2023-12-22","h":20.9,"l":20.65,"c":20.8,"v":280},
{"d":"2023-12-26","h":20.95,"l":20.7,"c":20.85,"v":450},
{"d":"2023-12-27","h":20.95,"l":20.7,"c":20.8,"v":420},
{"d":"2023-12-28","h":20.95,"l":20.7,"c":20.85,"v":300},
{"d":"2023-12-29","h":21.0,"l":20.75,"c":20.9,"v":390},
{"d":"2024-01-02","h":21.1,"l":20.85,"c":21.0,"v":180},
{"d":"2024-01-03","h":21.2,"l":20.95,"c":21.1,"v":140},
{"d":"2024-01-04","h":21.3,"l":21.05,"c":21.2,"v":190},
{"d":"2024-01-05","h":21.25,"l":21.0,"c":21.15,"v":120},
{"d":"2024-01-08","h":21.34,"l":21.1,"c":21.25,"v":160},
{"d":"2024-01-09","h":21.25,"l":21.0,"c":21.1,"v":150},
{"d":"2024-01-10","h":21.15,"l":20.9,"c":21.0,"v":130},
{"d":"2024-01-11","h":21.1,"l":20.85,"c":20.95,"v":255},
{"d":"2024-01-12","h":21.1,"l":20.9,"c":21.05,"v":110},
{"d":"2024-01-16","h":21.05,"l":20.8,"c":20.9,"v":140},
{"d":"2024-01-17","h":20.95,"l":20.75,"c":20.85,"v":120},
{"d":"2024-01-18","h":21.0,"l":20.75,"c":20.9,"v":100},
{"d":"2024-01-19","h":20.95,"l":20.7,"c":20.8,"v":150},
{"d":"2024-01-22","h":20.85,"l":20.55,"c":20.7,"v":130},
{"d":"2024-01-23","h":21.0,"l":20.7,"c":20.9,"v":170},
{"d":"2024-01-24","h":21.1,"l":20.85,"c":21.0,"v":110},
{"d":"2024-01-25","h":21.15,"l":20.9,"c":21.05,"v":90},
{"d":"2024-01-26","h":21.15,"l":20.95,"c":21.0,"v":120},
{"d":"2024-01-29","h":21.2,"l":20.95,"c":21.1,"v":80},
{"d":"2024-01-30","h":21.3,"l":21.05,"c":21.2,"v":140},
{"d":"2024-01-31","h":21.4,"l":21.1,"c":21.3,"v":160},
{"d":"2024-02-01","h":21.62,"l":21.3,"c":21.45,"v":130},
{"d":"2024-02-02","h":21.5,"l":21.25,"c":21.35,"v":100},
{"d":"2024-02-05","h":21.4,"l":21.15,"c":21.25,"v":120},
{"d":"2024-02-06","h":21.4,"l":21.2,"c":21.3,"v":90},
{"d":"2024-02-07","h":21.45,"l":21.2,"c":21.35,"v":70},
{"d":"2024-02-08","h":21.4,"l":21.15,"c":21.25,"v":110},
{"d":"2024-02-09","h":21.4,"l":21.2,"c":21.3,"v":60},
{"d":"2024-02-12","h":21.35,"l":21.1,"c":21.2,"v":80},
{"d":"2024-02-13","h":21.25,"l":20.95,"c":21.05,"v":150},
{"d":"2024-02-14","h":21.2,"l":21.0,"c":21.15,"v":100},
{"d":"2024-02-15","h":21.2,"l":21.0,"c":21.1,"v":90},
{"d":"2024-02-16","h":21.15,"l":20.95,"c":21.05,"v":70},
{"d":"2024-02-20","h":21.2,"l":21.0,"c":21.1,"v":60},
{"d":"2024-02-21","h":21.15,"l":20.9,"c":21.0,"v":85},
{"d":"2024-02-22","h":21.2,"l":20.95,"c":21.1,"v":75},
{"d":"2024-02-23","h":21.2,"l":21.0,"c":21.15,"v":120},
{"d":"2024-02-26","h":21.2,"l":20.95,"c":21.05,"v":110},
{"d":"2024-02-27","h":21.1,"l":20.9,"c":21.0,"v":65},
{"d":"2024-02-28","h":21.05,"l":20.86,"c":20.9,"v":90},
{"d":"2024-02-29","h":21.1,"l":20.88,"c":21.0,"v":224},
{"d":"2024-03-01","h":21.15,"l":20.9,"c":21.05,"v":100},
{"d":"2024-03-04","h":21.15,"l":20.95,"c":21.1,"v":80},
{"d":"2024-03-05","h":21.15,"l":20.95,"c":21.05,"v":70},
{"d":"2024-03-06","h":21.15,"l":21.0,"c":21.1,"v":90},
{"d":"2024-03-07","h":21.15,"l":20.95,"c":21.05,"v":60},
{"d":"2024-03-08","h":21.1,"l":20.9,"c":21.0,"v":110},
{"d":"2024-03-11","h":21.15,"l":20.9,"c":21.05,"v":337},
{"d":"2024-03-12","h":21.1,"l":20.85,"c":20.95,"v":130},
{"d":"2024-03-13","h":21.0,"l":20.85,"c":20.9,"v":95},
{"d":"2024-03-14","h":21.0,"l":20.8,"c":20.85,"v":150},
{"d":"2024-03-15","h":21.0,"l":20.8,"c":20.9,"v":70},
{"d":"2024-03-18","h":21.05,"l":20.85,"c":20.95,"v":55},
{"d":"2024-03-19","h":21.1,"l":20.9,"c":21.0,"v":90},
{"d":"2024-03-20","h":21.1,"l":20.9,"c":21.05,"v":65},
{"d":"2024-03-21","h":21.15,"l":20.95,"c":21.1,"v":120},
{"d":"2024-03-22","h":21.15,"l":20.95,"c":21.05,"v":80},
{"d":"2024-03-25","h":21.1,"l":20.9,"c":21.0,"v":100},
{"d":"2024-03-26","h":21.1,"l":20.9,"c":21.0,"v":75},
{"d":"2024-03-27","h":21.1,"l":20.9,"c":21.05,"v":110},
{"d":"2024-03-28","h":21.1,"l":20.9,"c":20.95,"v":130},
{"d":"2024-04-01","h":21.0,"l":20.8,"c":20.9,"v":60},
{"d":"2024-04-02","h":20.95,"l":20.75,"c":20.85,"v":100},
{"d":"2024-04-03","h":20.9,"l":20.7,"c":20.75,"v":80},
{"d":"2024-04-04","h":20.9,"l":20.7,"c":20.8,"v":140},
{"d":"2024-04-05","h":20.85,"l":20.65,"c":20.7,"v":130},
{"d":"2024-04-08","h":20.85,"l":20.65,"c":20.75,"v":150},
{"d":"2024-04-09","h":20.9,"l":20.7,"c":20.8,"v":110},
{"d":"2024-04-10","h":20.7,"l":20.45,"c":20.5,"v":170},
{"d":"2024-04-11","h":20.6,"l":20.35,"c":20.45,"v":160},
{"d":"2024-04-12","h":20.55,"l":20.3,"c":20.4,"v":140},
{"d":"2024-04-15","h":20.5,"l":20.3,"c":20.35,"v":120},
{"d":"2024-04-16","h":20.4,"l":20.23,"c":20.3,"v":150},
{"d":"2024-04-17","h":20.5,"l":20.3,"c":20.45,"v":175},
{"d":"2024-04-18","h":20.5,"l":20.35,"c":20.4,"v":110},
{"d":"2024-04-19","h":20.48,"l":20.39,"c":20.41,"v":139}
]},
"spacing":0,
"bounds":"flush",
"resolve":{"scale":{"x":"independent","y":"independent"}},
"vconcat":[
{"width":828,"height":29,
"title":{"text":["Historic Chart for US:BTT by Stockwatch.com 604.687.1500 - (c) 2024","Fri Apr 19 2024\u00a0\u00a0 Op=20.40\u00a0\u00a0 Hi=20.48\u00a0\u00a0 Lo=20.39\u00a0\u00a0 Cl=20.41\u00a0\u00a0 Vol=139,183\u00a0\u00a0 Year hi=23.8693\u00a0\u00a0 lo=18.90"],"offset":-28,"lineHeight":14,"dx":1},
"data":{"values":[{}]},
"mark":{"type":"rule","opacity":0},
"encoding":{}},
{"width":828,"height":371,
"title":{"text":"US:BTT","offset":-19,"dx":9},
"data":{"name":"p"},
"transform":[
{"window":[{"op":"mean","field":"c","as":"m30"}],"frame":[-29,0],"sort":[{"field":"d"}]},
{"window":[{"op":"mean","field":"c","as":"m90"}],"frame":[-89,0],"sort":[{"field":"d"}]},
{"window":[{"op":"row_number","as":"rn"}],"sort":[{"field":"d"}]}
],
"encoding":{"x":{"field":"d","type":"temporal","scale":{"type":"utc","domain":[{"year":2022,"month":4,"date":20,"hours":12,"utc":true},{"year":2024,"month":4,"date":23,"hours":12,"utc":true}],"range":[0,780]},
"axis":{"grid":true,"labels":false,"ticks":false,"domain":false,"title":null,"tickCount":{"interval":"month","step":1}}}},
"layer":[
{"mark":{"type":"rule","color":"#000000","strokeWidth":1.2},
"encoding":{"y":{"field":"l","type":"quantitative","scale":{"domain":[18.575,24.597],"nice":false,"zero":false},
"axis":{"orient":"right","offset":-48,"values":[18.9,19.2,19.5,19.8,20.1,20.4,20.7,21.0,21.3,21.6,21.9,22.2,22.5,22.8,23.1,23.4,23.7,24.0,24.3],"tickCount":40,"format":".2f","labelFontSize":13,"labelColor":"#000000","labelPadding":6,"labelOverlap":false,"labelBound":false,"ticks":false,"tickSize":0,"domain":true,"domainColor":"#000000","domainWidth":2,"grid":true,"title":null}},
"y2":{"field":"h"}}},
{"mark":{"type":"square","color":"#ff0000","filled":true,"size":3,"opacity":1,"xOffset":1},
"encoding":{"y":{"field":"c","type":"quantitative"}}},
{"transform":[{"filter":"datum.rn >= 30"}],"mark":{"type":"line","color":"#ff00ff","strokeWidth":1},
"encoding":{"y":{"field":"m30","type":"quantitative"}}},
{"transform":[{"filter":"datum.rn >= 90"}],"mark":{"type":"line","color":"#0000ff","strokeWidth":1.2},
"encoding":{"y":{"field":"m90","type":"quantitative"}}}
]},
{"width":828,"height":3,"view":{"stroke":null},
"data":{"values":[{}]},
"mark":{"type":"rule","opacity":0},
"encoding":{}},
{"width":828,"height":105,
"title":{"text":"Volume","offset":-16.5,"dx":8},
"data":{"name":"p"},
"transform":[{"window":[{"op":"lag","field":"c","as":"pc"}],"sort":[{"field":"d"}]}],
"mark":{"type":"bar","size":1.4},
"encoding":{
"x":{"field":"d","type":"temporal","scale":{"type":"utc","domain":[{"year":2022,"month":4,"date":20,"hours":12,"utc":true},{"year":2024,"month":4,"date":23,"hours":12,"utc":true}],"range":[0,780]},
"axis":{"grid":true,"labels":false,"ticks":false,"domain":false,"title":null,"tickCount":{"interval":"month","step":1}}},
"y":{"field":"v","type":"quantitative","scale":{"domain":[-22,987],"nice":false,"zero":false},
"axis":{"orient":"right","offset":-48,"values":[250,500,750],"tickCount":10,"labelExpr":"datum.value + ' k'","labelFontSize":13,"labelColor":"#000000","labelPadding":6,"labelOverlap":false,"ticks":false,"tickSize":0,"domain":true,"domainColor":"#000000","domainWidth":2,"grid":true,"title":null}},
"y2":{"datum":-22},
"color":{"condition":[{"test":"datum.c > datum.pc","value":"#4cb84c"},{"test":"datum.c == datum.pc","value":"#aaaaaa"}],"value":"#ff0000"}
}},
{"width":780,"height":17,
"data":{"name":"p"},
"mark":{"type":"point","opacity":0},
"encoding":{"x":{"field":"d","type":"temporal","scale":{"type":"utc","domain":[{"year":2022,"month":4,"date":20,"hours":12,"utc":true},{"year":2024,"month":4,"date":23,"hours":12,"utc":true}],"range":[0,780]},
"axis":{"grid":true,"gridColor":"#000000","gridWidth":2,"labels":false,"ticks":false,"domain":false,"title":null,"tickCount":{"interval":"year","step":1}}}}},
{"width":780,"height":16,
"data":{"name":"p"},
"mark":{"type":"text","font":"Liberation Sans","fontSize":13,"color":"#000000"},
"encoding":{"x":{"aggregate":"mean","field":"d","type":"temporal","scale":{"type":"utc","domain":[{"year":2022,"month":4,"date":20,"hours":12,"utc":true},{"year":2024,"month":4,"date":23,"hours":12,"utc":true}],"range":[0,780]},
"axis":{"grid":true,"gridColor":"#000000","gridWidth":2,"labels":false,"ticks":false,"domain":false,"title":null,"tickCount":{"interval":"year","step":1}}},
"text":{"field":"d","timeUnit":"utcyear","type":"temporal"}}}
]
}
